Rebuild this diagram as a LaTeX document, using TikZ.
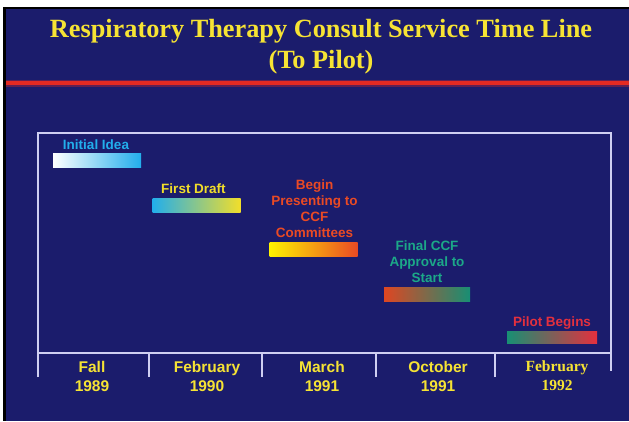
\documentclass[tikz,border=0pt]{standalone}
\usepackage{fontspec}
\setmainfont{Liberation Serif}
\setsansfont{Liberation Sans}
\usetikzlibrary{positioning}
\definecolor{Slide}{HTML}{1B1C6C}
\definecolor{TitleYel}{HTML}{F6E334}
\definecolor{RuleRed}{HTML}{E42A22}
\definecolor{Frame}{HTML}{CFCFF2}
\definecolor{IdeaBlue}{HTML}{22AEEC}
\definecolor{DraftYel}{HTML}{F2DE2A}
\definecolor{DraftMid}{HTML}{3CC07A}
\definecolor{CcfRed}{HTML}{EA4A24}
\definecolor{ApprTeal}{HTML}{1CA888}
\definecolor{PilotRed}{HTML}{E4303E}

\begin{document}
\begin{tikzpicture}[x=1pt, y=-1pt,
      ttl/.style={font=\fontsize{26.3}{31}\selectfont\bfseries, text=TitleYel,
                  inner sep=0pt, anchor=base},
      bar/.style={minimum width=88pt, minimum height=14pt, inner sep=0pt},
      lbl/.style={font=\sffamily\bfseries\fontsize{13.5}{16}\selectfont,
                  align=center, inner sep=0pt},
      yr/.style={font=\sffamily\bfseries\fontsize{15.5}{19}\selectfont,
                 text=TitleYel, align=center, inner sep=0pt, anchor=north},
      frm/.style={draw=Frame, line width=1.8pt},
      node distance=4pt,
    ]
      % slide
      \useasboundingbox (0,0) rectangle (629,421);
      \fill[white] (0,0) rectangle (629,421);
      \fill[black] (3,7) rectangle (629,421);
      \fill[Slide] (6,9) rectangle (629,421);

      % heading + red rule
      \node[ttl] (head) at (321,37) {Respiratory Therapy Consult Service Time Line};
      \node[ttl] (sub) at (321,68) {(To Pilot)};
      \draw[RuleRed, line width=7pt, opacity=.35] (6,83) -- (629,83);
      \draw[RuleRed, line width=3.2pt] (6,83) -- (629,83);

      % frame and time axis
      \draw[frm] (38,377) -- (38,133) -- (611,133) -- (611,371);
      \draw[frm] (38,353) -- (611,353);
      \foreach \x in {149,262,376,495}
        \draw[frm] (\x,353) -- (\x,377);

      % milestones
      \node[bar, left color=white, middle color=IdeaBlue!60!white,
            right color=IdeaBlue] (idea) at (97,160.5) {};
      \node[bar, left color=IdeaBlue, middle color=DraftMid,
            right color=DraftYel] (draft) at (196.5,205.5) {};
      \node[bar, left color=yellow!90!orange, middle color=orange!90!yellow,
            right color=CcfRed] (ccf) at (313.5,249) {};
      \node[bar, left color=CcfRed!95!black, right color=ApprTeal!85!black,
            minimum width=86pt] (appr) at (427,294.5) {};
      \node[bar, left color=ApprTeal!85!black, right color=PilotRed,
            minimum width=90pt, minimum height=12pt] (pilot) at (552,337.5) {};

      \node[lbl, text=IdeaBlue, above=3pt of idea, xshift=-1pt] {Initial Idea};
      \node[lbl, text=DraftYel, above=of draft, xshift=-3pt] {First Draft};
      \node[lbl, text=CcfRed, above=of ccf, xshift=1pt]
            {Begin\\Presenting to\\CCF\\Committees};
      \node[lbl, text=ApprTeal, above=of appr] {Final CCF\\Approval to\\Start};
      \node[lbl, text=PilotRed, above=2pt of pilot] {Pilot Begins};

      % dates under the axis
      \node[yr] (d1) at (92,361) {Fall\\1989};
      \node[yr] (d2) at (207,361) {February\\1990};
      \node[yr] (d3) at (322,361) {March\\1991};
      \node[yr] (d4) at (438,361) {October\\1991};
      \node[yr, font=\bfseries\fontsize{15.5}{19}\selectfont] (d5) at (557,361)
            {February\\1992};
    \end{tikzpicture}
\end{document}
